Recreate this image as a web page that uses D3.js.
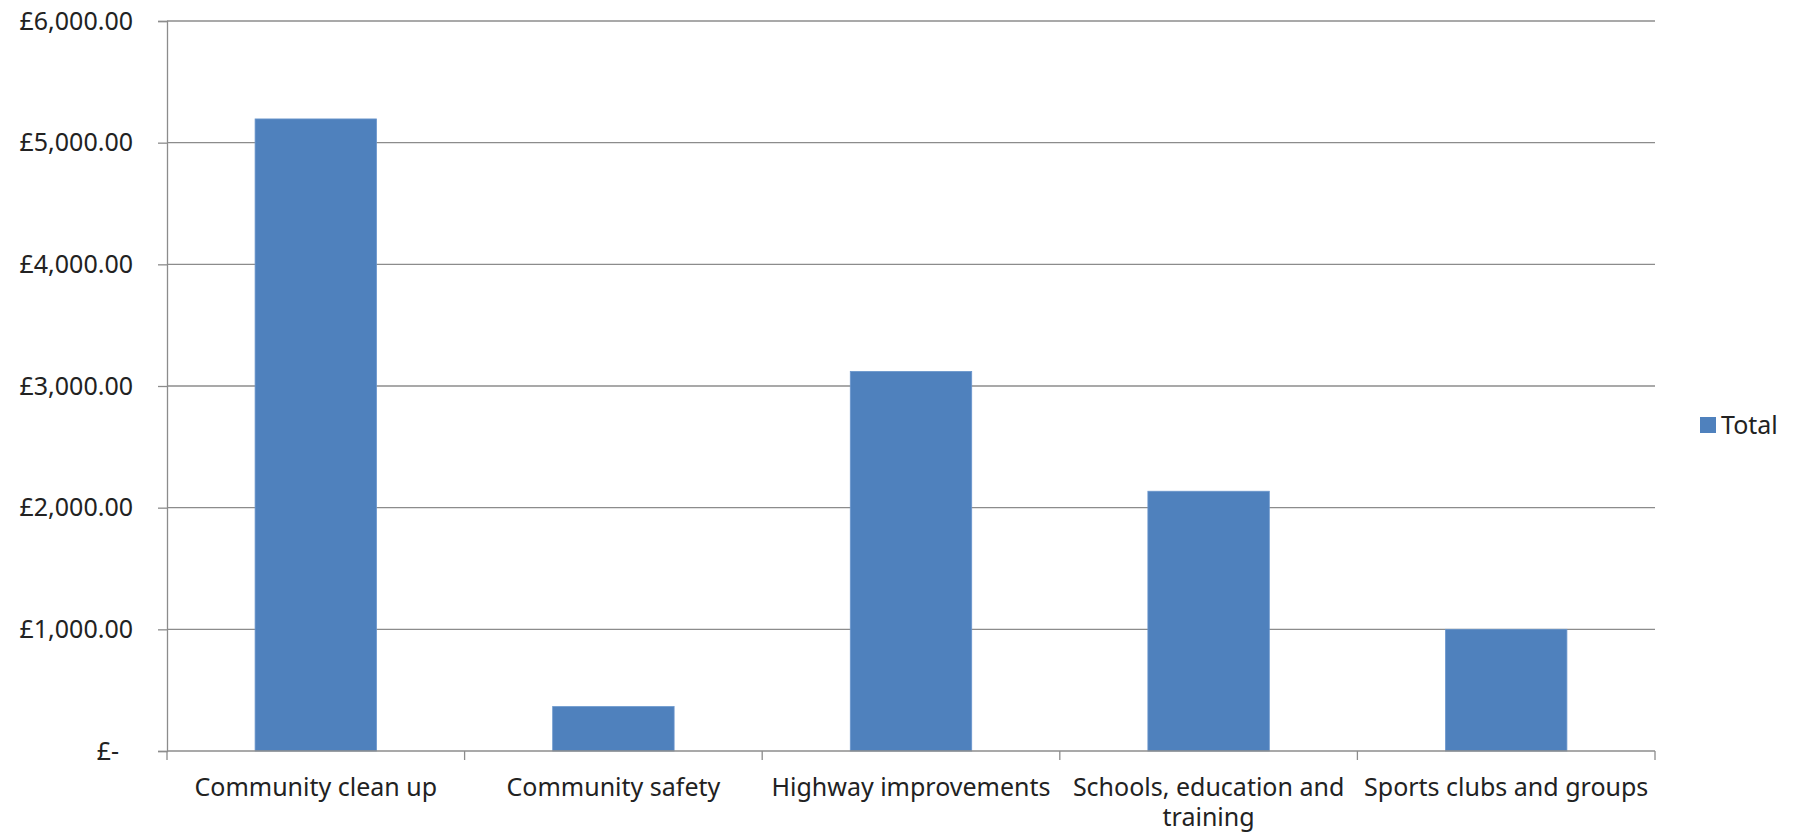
<!DOCTYPE html>
<html>
<head>
<meta charset="utf-8">
<script src="https://cdn.jsdelivr.net/npm/d3@7"></script>
<style>
  html, body { margin: 0; padding: 0; background: #fff; }
  svg { display: block; }
  text { font-family: "Noto Sans", "Open Sans", sans-serif; fill: #222; }
</style>
</head>
<body>
<svg id="chart" width="1796" height="839"></svg>
<script>
const categories = ["Community clean up", "Community safety", "Highway improvements", "Schools, education and training", "Sports clubs and groups"];
const totals = [5195, 365, 3120, 2135, 1000];
const yTicks = [0, 1000, 2000, 3000, 4000, 5000, 6000];
const seriesName = "Total";

const W = 1796, H = 839;
const margin = { left: 167, right: 141, top: 21, bottom: 88 };
const fontSize = 25;
const barColor = "#4F81BD";
const gridColor = "#8c8c8c";

const svg = d3.select("#chart");
const x = d3.scaleBand().domain(categories)
  .range([margin.left, W - margin.right])
  .paddingInner(0.592).paddingOuter(0.296);
const y = d3.scaleLinear().domain([0, 6000]).range([H - margin.bottom, margin.top]);

const fmt = v => v === 0 ? "£-" : "£" + d3.format(",.2f")(v);

// gridlines
svg.append("g").selectAll("line").data(yTicks.filter(d => d > 0)).join("line")
  .attr("x1", margin.left).attr("x2", W - margin.right)
  .attr("y1", d => y(d)).attr("y2", d => y(d))
  .attr("stroke", gridColor).attr("stroke-width", 1.3);

// y axis
const yAxis = svg.append("g").attr("transform", `translate(${margin.left},0)`)
  .call(d3.axisLeft(y).tickValues(yTicks).tickFormat(fmt).tickSize(9).tickPadding(25));
yAxis.select(".domain").attr("stroke", gridColor).attr("stroke-width", 1.3);
yAxis.selectAll(".tick line").attr("stroke", gridColor).attr("stroke-width", 1.3);
yAxis.selectAll(".tick text").style("font-size", fontSize + "px")
  .style("font-family", '"Noto Sans", sans-serif').attr("fill", "#222");
yAxis.selectAll(".tick").filter(d => d === 0).select("text").attr("dx", -14);

// bars
svg.append("g").selectAll("rect").data(categories).join("rect")
  .attr("x", d => x(d)).attr("width", x.bandwidth())
  .attr("y", (d, i) => y(totals[i]))
  .attr("height", (d, i) => y(0) - y(totals[i]))
  .attr("fill", barColor).attr("stroke", "#6a96cc").attr("stroke-width", 0.8);

// x axis
const step = x.step();
const x0 = margin.left, yb = y(0);
const xg = svg.append("g");
xg.append("line").attr("x1", x0).attr("x2", W - margin.right)
  .attr("y1", yb).attr("y2", yb).attr("stroke", gridColor).attr("stroke-width", 1.3);
xg.selectAll("line.tk").data(d3.range(categories.length + 1)).join("line").attr("class", "tk")
  .attr("x1", i => x0 + i * step).attr("x2", i => x0 + i * step)
  .attr("y1", yb).attr("y2", yb + 9)
  .attr("stroke", gridColor).attr("stroke-width", 1.3);

const labels = xg.selectAll("text").data(categories).join("text")
  .attr("x", d => x(d) + x.bandwidth() / 2)
  .attr("y", yb + 45)
  .attr("text-anchor", "middle")
  .style("font-size", fontSize + "px");

labels.each(function(d) {
  const t = d3.select(this);
  const words = d.split(" ");
  let line = [];
  let tspan = t.append("tspan").attr("x", t.attr("x")).attr("dy", 0);
  for (const w of words) {
    line.push(w);
    tspan.text(line.join(" "));
    if (tspan.node().getComputedTextLength() > step - 6 && line.length > 1) {
      line.pop();
      tspan.text(line.join(" "));
      line = [w];
      tspan = t.append("tspan").attr("x", t.attr("x")).attr("dy", 30).text(w);
    }
  }
});

// legend
const lg = svg.append("g").attr("transform", `translate(1700, 425)`);
lg.append("rect").attr("x", 0).attr("y", -8).attr("width", 16).attr("height", 16).attr("fill", barColor);
lg.append("text").attr("x", 21).attr("y", 0).attr("dy", "0.35em").style("font-size", fontSize + "px").text(seriesName);
</script>
</body>
</html>
